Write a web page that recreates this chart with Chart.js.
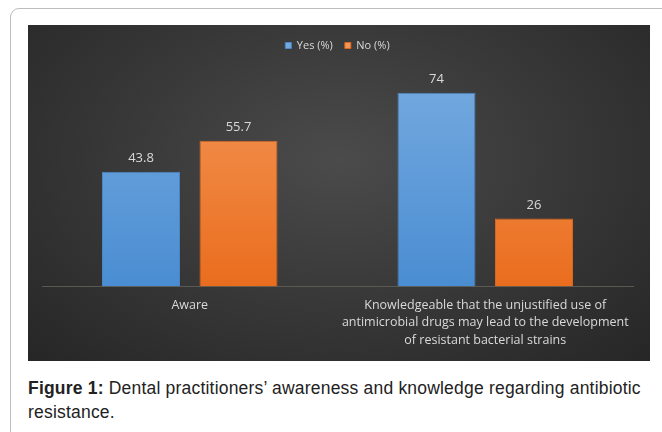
<!DOCTYPE html>
<html>
<head>
<meta charset="utf-8">
<script src="https://cdn.jsdelivr.net/npm/chart.js@4/dist/chart.umd.min.js"></script>
<style>
  body { margin: 0; width: 662px; height: 432px; background: #fff; overflow: hidden; position: relative; }
  .card { position: absolute; left: 10px; top: 8px; width: 700px; height: 480px; border: 1.5px solid #bdbdbd; border-radius: 9px; }
  .plot { position: absolute; left: 28px; top: 25px; width: 622px; height: 336px;
          background: radial-gradient(ellipse at 50% 40%, #4b4b4b 0%, #3a3a3a 45%, #262626 100%); }
  .caption { position: absolute; left: 28px; top: 376px; width: 640px; font-family: "Liberation Sans", Arial, sans-serif;
             font-size: 17.5px; letter-spacing: 0.2px; line-height: 24px; color: #222; }
</style>
</head>
<body>
<div class="card"></div>
<div class="plot"><canvas id="myChart" width="622" height="336"></canvas></div>
<div class="caption"><b>Figure 1:</b> Dental practitioners’ awareness and knowledge regarding antibiotic resistance.</div>
<script>
const categories = [
    'Aware',
    ['Knowledgeable that the unjustified use of', 'antimicrobial drugs may lead to the development', 'of resistant bacterial strains']
]
const yesValues = [43.8, 74]
const noValues = [55.7, 26]

function barFill(top, bottom) {
    return ctx => {
        const area = ctx.chart.chartArea
        if (!area) return bottom
        const g = ctx.chart.ctx.createLinearGradient(0, area.top, 0, area.bottom)
        g.addColorStop(0, top)
        g.addColorStop(1, bottom)
        return g
    }
}

// values above the bars
const valueLabels = {
    id: 'valueLabels',
    afterDatasetsDraw(chart) {
        const ctx = chart.ctx
        ctx.save()
        ctx.font = '13px "Open Sans", sans-serif'
        ctx.fillStyle = '#d9d9d9'
        ctx.textAlign = 'center'
        ctx.textBaseline = 'bottom'
        chart.data.datasets.forEach((ds, i) => {
            chart.getDatasetMeta(i).data.forEach((bar, j) => {
                ctx.fillText(ds.data[j], bar.x, bar.y - 7)
            })
        })
        ctx.restore()
    }
}

// a bit more room between legend and bars
const legendGap = {
    id: 'legendGap',
    beforeInit(chart) {
        const fit = chart.legend.fit
        chart.legend.fit = function () {
            fit.bind(chart.legend)()
            this.height += 16
        }
    }
}

new Chart(document.getElementById('myChart'), {
    type: 'bar',
    data: {
        labels: categories,
        datasets: [
            {
                label: 'Yes (%)',
                data: yesValues,
                backgroundColor: barFill('#74a9df', '#4a8dd2'),
                borderColor: '#4a86c5',
                borderWidth: 1,
                categoryPercentage: 0.66,
                barPercentage: 0.8
            },
            {
                label: 'No (%)',
                data: noValues,
                backgroundColor: barFill('#f39554', '#ea6d1e'),
                borderColor: '#d9661f',
                borderWidth: 1,
                categoryPercentage: 0.66,
                barPercentage: 0.8
            }
        ]
    },
    options: {
        responsive: false,
        animation: false,
        layout: { padding: { left: 14, right: 17, top: 3, bottom: 2 } },
        plugins: {
            legend: {
                labels: {
                    color: '#d9d9d9',
                    boxWidth: 6,
                    boxHeight: 6,
                    padding: 12,
                    font: { family: '"Open Sans", sans-serif', size: 11 }
                }
            },
            tooltip: { enabled: false }
        },
        scales: {
            x: {
                grid: { display: false, drawTicks: false },
                border: { display: true, color: '#5a5a52', width: 1 },
                ticks: {
                    color: '#d9d9d9',
                    padding: 10,
                    maxRotation: 0,
                    autoSkip: false,
                    font: { family: '"Open Sans", sans-serif', size: 12.5, lineHeight: 1.4 }
                }
            },
            y: {
                display: false,
                min: 0,
                max: 80
            }
        }
    },
    plugins: [valueLabels, legendGap]
})
</script>
</body>
</html>
